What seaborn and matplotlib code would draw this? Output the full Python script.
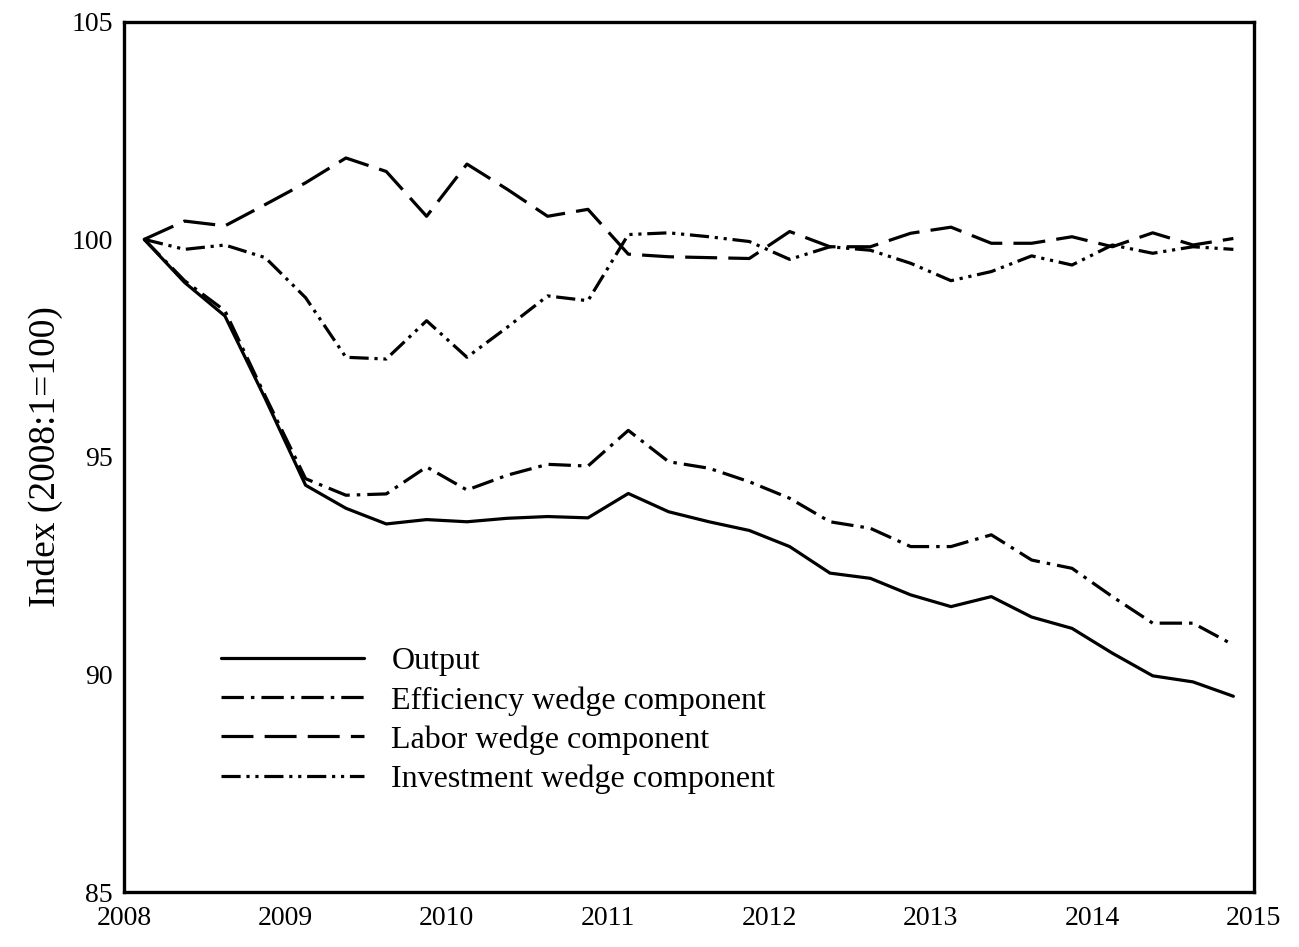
import numpy as np
import pandas as pd
import matplotlib
matplotlib.use("Agg")
import matplotlib.pyplot as plt
import seaborn as sns

sns.set_style("white")
plt.rcParams['font.family'] = ['Liberation Serif', 'DejaVu Serif']
plt.rcParams['text.color'] = 'black'
plt.rcParams['axes.labelcolor'] = 'black'

# quarterly midpoints 2008:1 .. 2014:4
quarters = 2008.125 + 0.25 * np.arange(28)

output = [100, 99.01, 98.24, 96.34, 94.35, 93.82, 93.46, 93.56, 93.51, 93.59, 93.63, 93.60, 94.16, 93.74,
          93.51, 93.31, 92.94, 92.33, 92.21, 91.83, 91.56, 91.79, 91.32, 91.06, 90.49, 89.97, 89.83, 89.50]
efficiency = [100, 99.05, 98.36, 96.4, 94.5, 94.12, 94.15, 94.77, 94.24, 94.58, 94.83, 94.79, 95.61, 94.89,
              94.74, 94.43, 94.05, 93.51, 93.36, 92.94, 92.94, 93.21, 92.63, 92.44, 91.79, 91.18, 91.18, 90.68]
labor = [100, 100.42, 100.31, 100.8, 101.3, 101.87, 101.56, 100.53, 101.73, 101.15, 100.53, 100.69, 99.66, 99.6,
         99.58, 99.56, 100.18, 99.83, 99.83, 100.14, 100.28, 99.91, 99.91, 100.06, 99.83, 100.15, 99.87, 100.02]
investment = [100, 99.77, 99.87, 99.58, 98.66, 97.29, 97.25, 98.13, 97.29, 97.98, 98.70, 98.59, 100.11, 100.15,
              100.06, 99.95, 99.54, 99.83, 99.75, 99.45, 99.05, 99.26, 99.62, 99.41, 99.87, 99.68, 99.83, 99.77]

series = [
    ("Output", output, ()),
    ("Efficiency wedge component", efficiency, (7, 2.2, 1.1, 2.2)),
    ("Labor wedge component", labor, (10, 3.5)),
    ("Investment wedge component", investment, (6, 1.8, 1, 1.8, 1, 1.8)),
]

fig = plt.figure(figsize=(12.99, 9.47), dpi=100)
ax = fig.add_axes([0.0955, 0.058, 0.8695, 0.919])

for name, vals, dash in series:
    df = pd.DataFrame({"year": quarters, "value": vals})
    sns.lineplot(data=df, x="year", y="value", ax=ax, color="black", linewidth=2.3, label=name)
    ln = ax.get_lines()[-1]
    if dash:
        ln.set_dashes(dash)

ax.set_xlim(2008, 2015)
ax.set_ylim(85, 105)
ax.set_xticks(range(2008, 2016))
ax.set_yticks([85, 90, 95, 100, 105])
ax.set_xlabel("")
ax.set_ylabel("Index (2008:1=100)", fontsize=27, labelpad=6)
ax.tick_params(direction="in", length=7, width=1, labelsize=20)
ax.tick_params(axis="y", colors="gray", labelcolor="black", pad=8)
ax.tick_params(axis="x", colors="gray", labelcolor="black", pad=10)
for s in ax.spines.values():
    s.set_linewidth(2.4)
    s.set_color("black")

leg = ax.legend(loc="lower left", bbox_to_anchor=(0.06, 0.08), frameon=False, fontsize=23,
                handlelength=4.5, handletextpad=0.85, labelspacing=0.3)

fig.savefig("out.png", dpi=100)
